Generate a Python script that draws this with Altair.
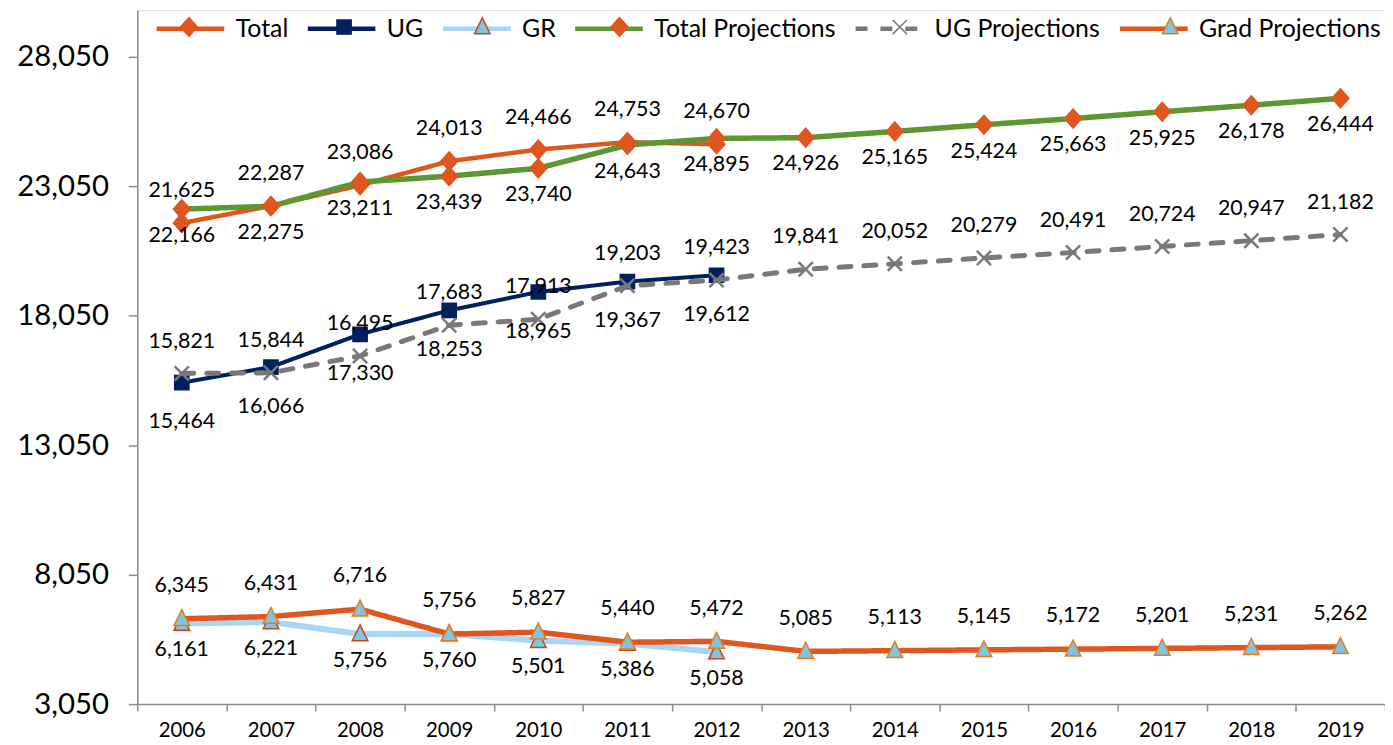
import altair as alt
import pandas as pd

# ---------------- data ----------------
years = list(range(2006, 2020))

total = [21625, 22287, 23086, 24013, 24466, 24753, 24670]
ug = [15464, 16066, 17330, 18253, 18965, 19367, 19612]
gr = [6161, 6221, 5756, 5760, 5501, 5386, 5058]
total_proj = [22166, 22275, 23211, 23439, 23740, 24643, 24895,
              24926, 25165, 25424, 25663, 25925, 26178, 26444]
ug_proj = [15821, 15844, 16495, 17683, 17913, 19203, 19423,
           19841, 20052, 20279, 20491, 20724, 20947, 21182]
grad_proj = [6345, 6431, 6716, 5756, 5827, 5440, 5472,
             5085, 5113, 5145, 5172, 5201, 5231, 5262]

series_names = ["Total", "UG", "GR", "Total Projections", "UG Projections", "Grad Projections"]
series_values = [total, ug, gr, total_proj, ug_proj, grad_proj]

y_ticks = [3050, 8050, 13050, 18050, 23050, 28050]

rows = []
for name, vals in zip(series_names, series_values):
    for yr, v in zip(years, vals):
        rows.append({"year": yr, "value": v, "series": name})
df = pd.DataFrame(rows)

# ---------------- styles ----------------
ORANGE = "#E0561F"
NAVY = "#002060"
LBLUE = "#A9D6F5"
GREEN = "#5E9732"
GRAY = "#787878"
TRI_FILL = "#7DC6E0"
TRI_EDGE_GR = "#C8461C"
TRI_EDGE_GP = "#EB7A1E"
AXIS_GRAY = "#8C8C8C"
FONT = "Lato"

line_colors = [ORANGE, NAVY, LBLUE, GREEN, GRAY, ORANGE]
line_widths = [4.5, 4, 6, 5.5, 5, 5.5]
line_dashes = [[1, 0], [1, 0], [1, 0], [1, 0], [12, 13], [1, 0]]
marker_fills = [ORANGE, NAVY, TRI_FILL, ORANGE, GRAY, TRI_FILL]
marker_strokes = [ORANGE, NAVY, TRI_EDGE_GR, ORANGE, GRAY, TRI_EDGE_GP]
marker_sw = [1.5, 1.5, 1.5, 1.5, 2.5, 1.5]
label_dy = [-32, 40, 27, 27, -32, -33]

# marker glyphs (unit = 34 px); the bare move-to points only pad the legend
# entry extents so the marker legend lines up with the line legend
left_pad = "M-1.206,0"
right_pad = [2.853, 2.353, 2.324, 6.559, 6.265, 6.5]
glyphs = [
    "M0,-0.28L0.25,0L0,0.28L-0.25,0Z",
    "M-0.21,-0.21L0.21,-0.21L0.21,0.21L-0.21,0.21Z",
    "M0,-0.27L0.23,0.2L-0.23,0.2Z",
    "M0,-0.28L0.25,0L0,0.28L-0.25,0Z",
    "M-0.21,-0.21L0.21,0.21M-0.21,0.21L0.21,-0.21",
    "M0,-0.27L0.23,0.2L-0.23,0.2Z",
]
marker_paths = [left_pad + g + "M%.3f,0" % r for g, r in zip(glyphs, right_pad)]

SYM = 4624  # 68 px symbol box

# ---------------- encodings ----------------
x_enc = alt.X(
    "year:O",
    bandPosition=0.5,
    scale=alt.Scale(type="band", domain=years, paddingInner=0, paddingOuter=0),
    axis=alt.Axis(title=None, labelAngle=0, tickBand="extent", tickSize=7,
                  labelPadding=10, labelFontSize=20.5, labelFont=FONT,
                  labelColor="black", domainColor=AXIS_GRAY, tickColor=AXIS_GRAY,
                  domainWidth=1.5, tickWidth=1.5),
)
y_enc = alt.Y(
    "value:Q",
    scale=alt.Scale(domain=[3050, 29850], nice=False, zero=False),
    axis=alt.Axis(title=None, values=y_ticks, format=",.0f", tickSize=9,
                  labelPadding=20, labelFontSize=29.5, labelFont=FONT,
                  labelColor="black", domainColor=AXIS_GRAY, tickColor=AXIS_GRAY,
                  domainWidth=1.5, tickWidth=1.5, grid=False),
)

legend_common = dict(orient="none", legendX=17, legendY=-18, direction="horizontal",
                     title=None, symbolSize=SYM, labelFont=FONT, labelFontSize=25,
                     labelOffset=9, columnPadding=10, labelLimit=500, padding=0,
                     symbolOpacity=1)
legend_a = alt.Legend(symbolType="stroke", symbolStrokeWidth=4.5,
                      labelColor="black", labelExpr="substring(datum.label, 2)",
                      zindex=1, **legend_common)
legend_b = alt.Legend(symbolStrokeWidth=1.5, labelColor="black", labelExpr="''",
                      zindex=2, **legend_common)

line_keys = ["L:" + s for s in series_names]
color_enc = alt.Color("lkey:N", scale=alt.Scale(domain=line_keys, range=line_colors), legend=legend_a)
dash_enc = alt.StrokeDash("lkey:N", scale=alt.Scale(domain=line_keys, range=line_dashes), legend=legend_a)
fill_enc = alt.Fill("series:N", scale=alt.Scale(domain=series_names, range=marker_fills), legend=legend_b)
stroke_enc = alt.Stroke("series:N", scale=alt.Scale(domain=series_names, range=marker_strokes), legend=legend_b)
shape_enc = alt.Shape("series:N", scale=alt.Scale(domain=series_names, range=marker_paths), legend=legend_b)

base = alt.Chart(df)
layers = []
for i, name in enumerate(series_names):
    sub = base.transform_filter(alt.datum.series == name)
    line = sub.transform_calculate(lkey="'L:' + datum.series").mark_line(
        strokeWidth=line_widths[i], strokeCap="round", strokeJoin="round"
    ).encode(x=x_enc, y=y_enc, color=color_enc, strokeDash=dash_enc)
    pts = sub.mark_point(filled=True, opacity=1, size=SYM, strokeWidth=marker_sw[i]).encode(
        x=x_enc, y=y_enc, fill=fill_enc, stroke=stroke_enc, shape=shape_enc
    )
    layers += [line, pts]

for i, name in enumerate(series_names):
    txt = base.transform_filter(alt.datum.series == name).mark_text(
        dy=label_dy[i], font=FONT, fontSize=21.5, color="black", baseline="middle"
    ).encode(x=x_enc, y=y_enc, text=alt.Text("value:Q", format=","))
    layers.append(txt)

chart = alt.layer(*layers).properties(
    width=1255, height=698,
    padding={"left": 130, "top": 0, "right": 0, "bottom": 39},
    autosize=alt.AutoSizeParams(type="none"),
).configure_view(stroke=None).configure(background="white")

chart.save("out.html", embed_options={"renderer": "svg", "actions": False})
